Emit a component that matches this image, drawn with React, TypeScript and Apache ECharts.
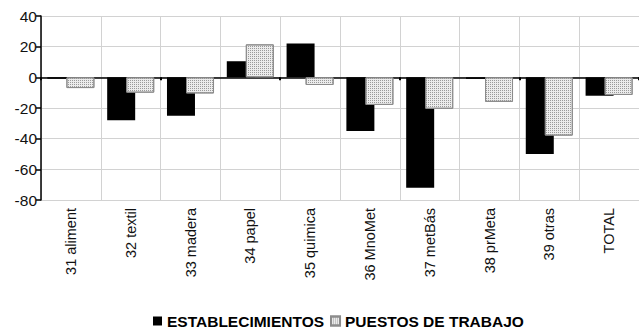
import React, { useEffect, useRef } from "react";
import * as echarts from "echarts";

const categories = [
  "31 aliment",
  "32 textil",
  "33 madera",
  "34 papel",
  "35 quimica",
  "36 MnoMet",
  "37 metBás",
  "38 prMeta",
  "39 otras",
  "TOTAL",
];
const establecimientos = [-1, -28, -25, 10.5, 22, -35, -72, -1, -50, -12];
const puestos = [-7, -10, -10.5, 21.5, -5, -18, -20.5, -16, -38, -11.5];
const seriesNames = ["ESTABLECIMIENTOS", "PUESTOS DE TRABAJO"];

export default function App() {
  const ref = useRef<HTMLDivElement>(null);
  useEffect(() => {
    if (!ref.current) return;
    const chart = echarts.init(ref.current, undefined, { renderer: "svg" });
    const font = "Liberation Sans, Arial, sans-serif";
    chart.setOption({
      animation: false,
      backgroundColor: "#ffffff",
      grid: { left: 41, top: 16, width: 600, height: 184, containLabel: false },
      legend: {
        left: 148,
        top: 308,
        itemWidth: 9,
        itemHeight: 9,
        itemGap: 6,
        icon: "rect",
        textStyle: { fontFamily: font, fontSize: 15.5, fontWeight: "bold", color: "#000" },
        data: seriesNames,
      },
      xAxis: [
        {
          type: "category",
          data: categories,
          position: "bottom",
          axisLine: { show: false, onZero: false },
          axisTick: { show: false },
          splitLine: { show: true, interval: 0, lineStyle: { color: "#d2d2d2", width: 1 } },
          axisLabel: {
            rotate: 90,
            interval: 0,
            margin: 8,
            fontFamily: font,
            fontSize: 14.5,
            color: "#111",
          },
        },
        {
          type: "category",
          data: categories,
          position: "bottom",
          axisLine: { show: true, onZero: true, lineStyle: { color: "#000", width: 1.5 } },
          axisTick: { show: true, length: 3, lineStyle: { color: "#000", width: 2 } },
          axisLabel: { show: false },
          splitLine: { show: false },
        },
      ],
      yAxis: {
        type: "value",
        min: -80,
        max: 40,
        interval: 20,
        axisLine: { show: true, onZero: false, lineStyle: { color: "#000", width: 1.5 } },
        axisTick: { show: true, length: 5, lineStyle: { color: "#000", width: 1.5 } },
        splitLine: { show: true, lineStyle: { color: "#d2d2d2", width: 1 } },
        axisLabel: { fontFamily: font, fontSize: 15.5, color: "#111", margin: 4 },
      },
      series: [
        {
          name: seriesNames[0],
          type: "bar",
          xAxisIndex: 0,
          data: establecimientos,
          barWidth: 28,
          barGap: "-32%",
          itemStyle: { color: "#000" },
        },
        {
          name: seriesNames[1],
          type: "bar",
          xAxisIndex: 0,
          data: puestos,
          barWidth: 28,
          barGap: "-32%",
          itemStyle: {
            color: "#ececec",
            borderColor: "#8c8c8c",
            borderWidth: 1,
            decal: {
              symbol: "rect",
              symbolSize: 1,
              dashArrayX: [1, 1],
              dashArrayY: [1, 1],
              color: "#9a9a9a",
            },
          },
        },
      ],
    });
    return () => chart.dispose();
  }, []);
  return (
    <div
      ref={ref}
      style={{ position: "fixed", left: 0, top: 0, width: 639, height: 330, background: "#fff" }}
    />
  );
}
